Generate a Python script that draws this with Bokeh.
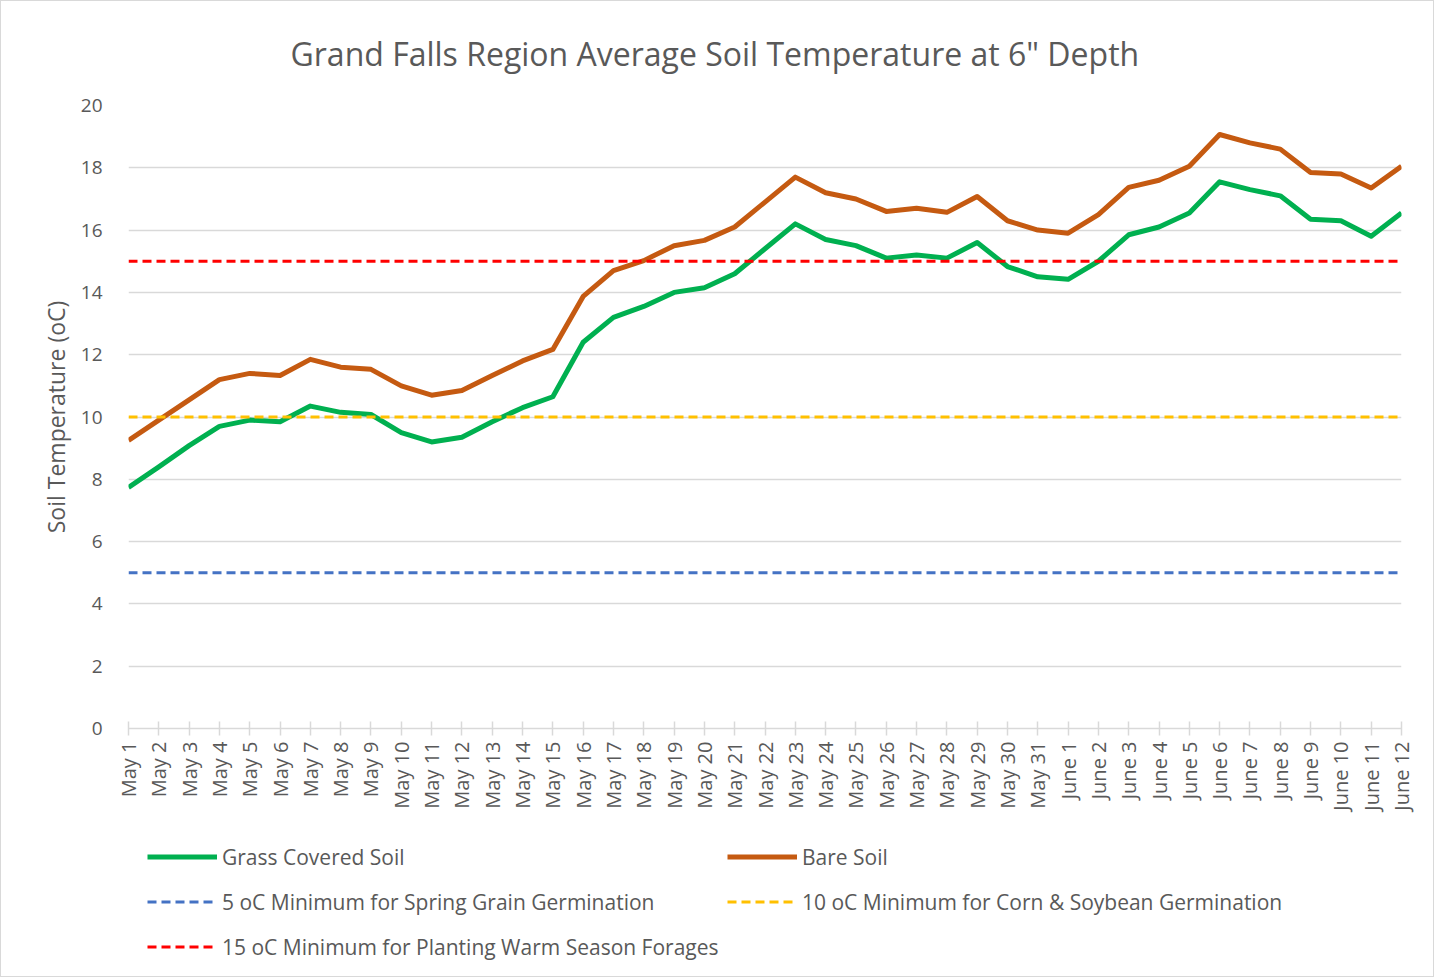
import math
from bokeh.plotting import figure
from bokeh.models import Range1d, FixedTicker, Legend, LegendItem, Title
from bokeh.layouts import column
from bokeh.embed import file_html
from bokeh.resources import INLINE

days = [f"May {d}" for d in range(1, 32)] + [f"June {d}" for d in range(1, 13)]

grass = [7.74, 8.4, 9.08, 9.7, 9.9, 9.85, 10.35, 10.15, 10.08, 9.5, 9.2, 9.35, 9.85,
         10.3, 10.65, 12.4, 13.2, 13.55, 14.0, 14.15, 14.6, 15.4, 16.2, 15.7, 15.5,
         15.1, 15.2, 15.1, 15.6, 14.83, 14.5, 14.42, 15.0, 15.85, 16.1, 16.55, 17.55,
         17.3, 17.1, 16.35, 16.3, 15.8, 16.55]

bare = [9.25, 9.9, 10.55, 11.2, 11.4, 11.33, 11.85, 11.6, 11.53, 11.0, 10.7, 10.85,
        11.33, 11.8, 12.17, 13.87, 14.7, 15.02, 15.5, 15.67, 16.1, 16.9, 17.7, 17.2,
        17.0, 16.6, 16.7, 16.57, 17.08, 16.3, 16.0, 15.9, 16.5, 17.37, 17.6, 18.05,
        19.07, 18.8, 18.6, 17.85, 17.8, 17.35, 18.05]

thresholds = [5, 10, 15]
threshold_labels = ["5 oC Minimum for Spring Grain Germination",
                    "10 oC Minimum for Corn & Soybean Germination",
                    "15 oC Minimum for Planting Warm Season Forages"]
y_ticks = list(range(0, 21, 2))

FONT = "Open Sans"
TXT = "#595959"
C_GRASS, C_BARE = "#00b050", "#c55a11"
TH_COLORS = ["#4472c4", "#ffc000", "#ff0000"]

x = list(range(len(days)))

W = 1432
p = figure(width=W, height=830, output_backend="svg", toolbar_location=None,
           x_range=Range1d(0, len(days) - 1), y_range=Range1d(0, 20),
           min_border_left=127, min_border_right=32, min_border_top=104,
           min_border_bottom=103)
p.outline_line_color = None
p.background_fill_color = "white"
p.border_fill_color = "white"

p.title = Title(text='Grand Falls Region Average Soil Temperature at 6" Depth',
                align="left", offset=162, vertical_align="top",
                text_font=FONT, text_font_size="32px",
                text_font_style="normal", text_color=TXT, standoff=58)

p.xaxis.ticker = FixedTicker(ticks=x)
p.xaxis.major_label_overrides = {i: d for i, d in enumerate(days)}
p.xaxis.major_label_orientation = math.pi / 2
p.xaxis.major_label_text_font = FONT
p.xaxis.major_label_text_font_size = "20px"
p.xaxis.major_label_text_color = TXT
p.xaxis.axis_line_color = "#d9d9d9"
p.xaxis.axis_line_width = 1.5
p.xaxis.major_tick_line_color = "#d9d9d9"
p.xaxis.major_tick_line_width = 1.5
p.xaxis.major_tick_in = 7
p.xaxis.major_tick_out = 7
p.xaxis.minor_tick_line_color = None
p.xaxis.major_label_standoff = 6

p.yaxis.ticker = FixedTicker(ticks=y_ticks)
p.yaxis.axis_line_color = None
p.yaxis.major_tick_line_color = None
p.yaxis.minor_tick_line_color = None
p.yaxis.major_label_text_font = FONT
p.yaxis.major_label_text_font_size = "19px"
p.yaxis.major_label_text_color = TXT
p.yaxis.major_label_standoff = 20
p.yaxis.axis_label = "Soil Temperature (oC)"
p.yaxis.axis_label_text_font = FONT
p.yaxis.axis_label_text_font_size = "23px"
p.yaxis.axis_label_text_font_style = "normal"
p.yaxis.axis_label_text_color = TXT
p.yaxis.axis_label_standoff = 6

p.xgrid.grid_line_color = None
p.ygrid.grid_line_color = "#d9d9d9"
p.ygrid.grid_line_width = 1.3

p.line(x, grass, line_color=C_GRASS, line_width=5, line_join="round")
p.line(x, bare, line_color=C_BARE, line_width=5, line_join="round")
for t, c in zip(thresholds, TH_COLORS):
    p.line(x, [t] * len(x), line_color=c, line_width=3, line_dash="9 5")

# legend strip (renderers hidden; only their legend entries are shown)
lp = figure(width=W, height=145, output_backend="svg", toolbar_location=None,
            x_axis_location=None, y_axis_location=None,
            min_border=0, min_border_left=0, min_border_right=0,
            min_border_top=0, min_border_bottom=0)
lp.outline_line_color = None
lp.xgrid.visible = False
lp.ygrid.visible = False
lg_grass = lp.line(x, grass, line_color=C_GRASS, line_width=5, visible=False)
lg_bare = lp.line(x, bare, line_color=C_BARE, line_width=5, visible=False)
lg_th = [lp.line(x, [t] * len(x), line_color=c, line_width=3, line_dash="9 5",
                 visible=False) for t, c in zip(thresholds, TH_COLORS)]


def make_legend(items, loc):
    return Legend(items=items, location=loc, orientation="vertical",
                  glyph_width=70, glyph_height=35, label_height=35,
                  label_standoff=5, spacing=10, padding=0, margin=0,
                  label_text_font=FONT, label_text_font_size="21px",
                  label_text_color=TXT, border_line_color=None,
                  background_fill_alpha=0)


leg_a = make_legend([LegendItem(label="Grass Covered Soil", renderers=[lg_grass]),
                     LegendItem(label=threshold_labels[0], renderers=[lg_th[0]]),
                     LegendItem(label=threshold_labels[2], renderers=[lg_th[2]])],
                    (19, 12))
leg_b = make_legend([LegendItem(label="Bare Soil", renderers=[lg_bare]),
                     LegendItem(label=threshold_labels[1], renderers=[lg_th[1]])],
                    (599, 57))
lp.add_layout(leg_a, "center")
lp.add_layout(leg_b, "center")

layout = column(p, lp, spacing=0, styles={"border": "1px solid #d9d9d9"})

open("out.html", "w").write(file_html(layout, INLINE))
